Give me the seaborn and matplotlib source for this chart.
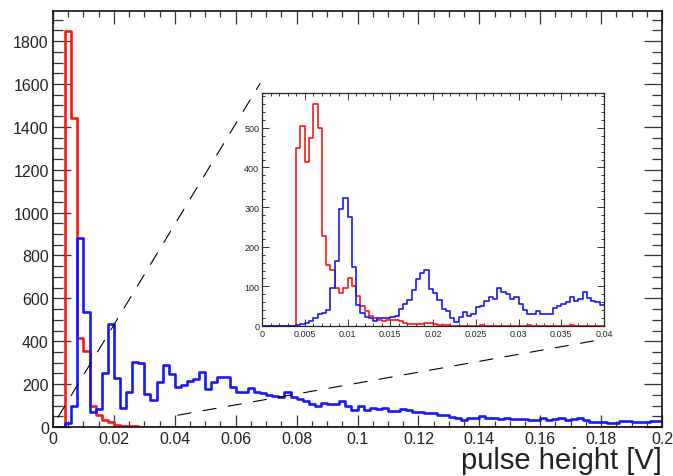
import numpy as np
import pandas as pd
import seaborn as sns
import matplotlib.pyplot as plt
from matplotlib.patches import ConnectionPatch
from matplotlib.ticker import MultipleLocator, FuncFormatter

# main histogram: 100 bins of 2 mV between 0 and 0.2 V
main_edges = np.linspace(0.0, 0.2, 101)
red_main = [0, 0, 1848, 1440, 415, 355, 98, 55, 31, 24,
            11, 5, 4, 3, 2, 2, 1, 2, 2, 1,
            1, 0, 1, 0, 0, 1, 0, 0, 0, 1,
            0, 0, 1, 0, 0, 0, 0, 1, 0, 0,
            0, 0, 0, 0, 0, 0, 0, 0, 0, 0,
            0, 0, 0, 0, 0, 0, 0, 0, 0, 0,
            0, 0, 0, 0, 0, 0, 0, 0, 0, 0,
            0, 0, 0, 0, 0, 0, 0, 0, 0, 0,
            0, 0, 0, 0, 0, 0, 0, 0, 0, 0,
            0, 0, 0, 0, 0, 0, 0, 0, 0, 0]
blue_main = [0, 2, 20, 100, 880, 535, 70, 85, 250, 480,
             228, 88, 163, 305, 298, 155, 126, 210, 290, 247,
             187, 195, 216, 224, 258, 177, 211, 234, 234, 185,
             162, 162, 180, 165, 160, 150, 146, 140, 162, 138,
             130, 122, 108, 97, 110, 108, 107, 123, 99, 78,
             97, 78, 87, 86, 88, 76, 76, 82, 79, 68,
             68, 66, 67, 57, 56, 46, 44, 33, 40, 40,
             50, 40, 42, 35, 40, 38, 37, 36, 34, 33,
             40, 34, 36, 40, 34, 35, 40, 34, 25, 25,
             22, 20, 18, 26, 26, 22, 22, 25, 26, 26]

# zoomed histogram: 80 bins of 0.5 mV between 0 and 0.04 V
inset_edges = np.linspace(0.0, 0.04, 81)
red_inset = [0, 0, 0, 0, 0, 0, 0, 0, 450, 505,
             415, 475, 560, 500, 227, 153, 141, 95, 83, 95,
             122, 101, 76, 51, 38, 26, 20, 15, 12, 14,
             15, 14, 12, 8, 6, 5, 5, 4, 7, 8,
             4, 3, 2, 2, 1, 0, 1, 1, 0, 0,
             1, 2, 1, 0, 0, 1, 1, 0, 1, 0,
             0, 1, 2, 1, 0, 0, 0, 1, 1, 0,
             0, 1, 2, 1, 0, 1, 0, 0, 1, 0]
blue_inset = [0, 0, 0, 0, 0, 0, 0, 0, 2, 5,
              7, 12, 19, 30, 34, 40, 95, 165, 296, 324,
              275, 148, 52, 32, 22, 19, 13, 19, 19, 20,
              22, 24, 44, 56, 65, 90, 118, 134, 141, 93,
              84, 65, 42, 38, 19, 11, 22, 36, 26, 30,
              47, 51, 63, 74, 69, 97, 86, 80, 69, 72,
              55, 40, 30, 30, 38, 30, 30, 30, 45, 50,
              55, 60, 73, 63, 68, 86, 70, 62, 60, 52]

main_xticks = [0, 0.02, 0.04, 0.06, 0.08, 0.1, 0.12, 0.14, 0.16, 0.18, 0.2]
inset_xticks = [0, 0.005, 0.01, 0.015, 0.02, 0.025, 0.03, 0.035, 0.04]

sns.set_theme(style="ticks")
plt.rcParams['font.family'] = ['Liberation Sans', 'DejaVu Sans']

RED = '#f81818'
BLUE = '#1818f8'


def draw_hist(ax, edges, counts, color, lw):
    df = pd.DataFrame({'x': (edges[:-1] + edges[1:]) / 2,
                       'n': np.asarray(counts, dtype=float)})
    sns.histplot(data=df, x='x', weights='n', bins=list(edges), element='step',
                 fill=False, color=color, linewidth=lw, ax=ax)


fig = plt.figure(figsize=(6.73, 4.77), dpi=100)
ax = fig.add_axes([53 / 673, 49 / 477, 609 / 673, 416 / 477])
axin = fig.add_axes([262 / 673, 150 / 477, 342 / 673, 233 / 477])

# main pad
draw_hist(ax, main_edges, red_main, RED, 1.9)
draw_hist(ax, main_edges, blue_main, BLUE, 1.9)
ax.set_xlim(0, 0.2)
ax.set_ylim(0, 1.05 * max(red_main))
ax.set_xticks(main_xticks)
ax.xaxis.set_minor_locator(MultipleLocator(0.005))
ax.yaxis.set_major_locator(MultipleLocator(200))
ax.yaxis.set_minor_locator(MultipleLocator(50))
ax.xaxis.set_major_formatter(FuncFormatter(lambda v, p: f"{v:g}"))
ax.tick_params(which='both', direction='in', top=True, right=True,
               color='#333333', width=0.9, labelsize=11.5, labelcolor='#222222')
ax.tick_params(axis='x', which='major', length=9, pad=3)
ax.tick_params(axis='x', which='minor', length=4.5)
ax.tick_params(axis='y', which='major', length=13, pad=3)
ax.tick_params(axis='y', which='minor', length=7)
ax.set_ylabel('')
ax.set_xlabel('pulse height [V]', loc='right', fontsize=21, labelpad=0,
              color='#222222')
for s in ax.spines.values():
    s.set_linewidth(1.2)
    s.set_color('#111111')

# zoomed pad
draw_hist(axin, inset_edges, red_inset, RED, 1.2)
draw_hist(axin, inset_edges, blue_inset, BLUE, 1.2)
axin.set_facecolor('white')
axin.set_xlim(0, 0.04)
axin.set_ylim(0, 1.05 * max(red_inset))
axin.set_xticks(inset_xticks)
axin.xaxis.set_minor_locator(MultipleLocator(0.001))
axin.yaxis.set_major_locator(MultipleLocator(100))
axin.yaxis.set_minor_locator(MultipleLocator(20))
axin.xaxis.set_major_formatter(FuncFormatter(lambda v, p: f"{v:g}"))
axin.tick_params(which='both', direction='in', top=True, right=True,
                 color='#333333', width=0.7, labelsize=6.5, pad=2,
                 labelcolor='#222222')
axin.tick_params(which='major', length=5)
axin.tick_params(which='minor', length=2.5)
axin.set_xlabel('')
axin.set_ylabel('')
for s in axin.spines.values():
    s.set_linewidth(0.9)
    s.set_color('#222222')

# dashed zoom guides
for xy_main, xy_inset in [((0.0016, 45), (-0.006, 1.04)),
                          ((0.041, 55), (1.0, -0.056))]:
    con = ConnectionPatch(xyA=xy_main, coordsA=ax.transData,
                          xyB=xy_inset, coordsB=axin.transAxes,
                          color='black', linewidth=0.8,
                          linestyle=(0, (12, 11)))
    fig.add_artist(con)

fig.savefig('out.png', dpi=100)
